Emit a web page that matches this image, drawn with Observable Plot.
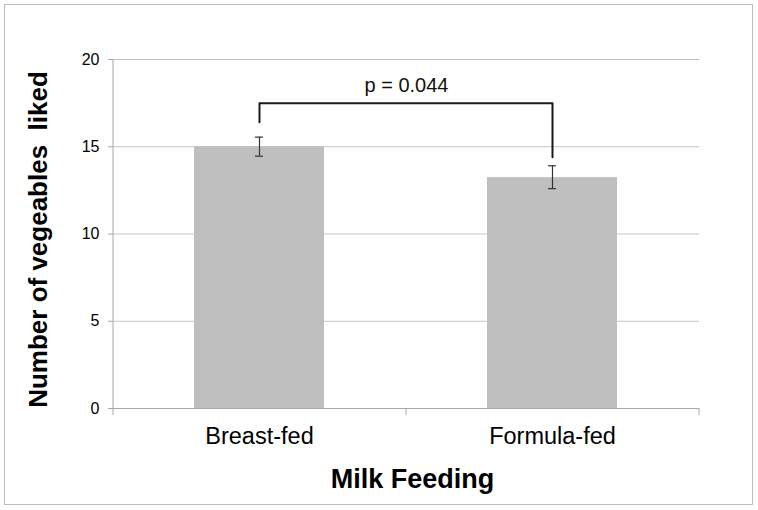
<!DOCTYPE html>
<html>
<head>
<meta charset="utf-8">
<script src="https://cdn.jsdelivr.net/npm/d3@7"></script>
<script src="https://cdn.jsdelivr.net/npm/@observablehq/plot@0.6"></script>
<style>
  html, body { margin: 0; padding: 0; background: #fff; }
  #wrap { position: relative; width: 758px; height: 510px; }
  #border { position: absolute; left: 4px; top: 4px; width: 747px; height: 499px; border: 1px solid #bdbdbd; pointer-events: none; }
  #chart svg { display: block; }
</style>
</head>
<body>
<div id="wrap"><div id="chart"></div><div id="border"></div></div>
<script>
const categories = ["Breast-fed", "Formula-fed"];
const means = [15.0, 13.23];
const errLow = [14.46, 12.6];
const errHigh = [15.55, 13.91];
const yTicks = [0, 5, 10, 15, 20];
const bracketX = ["Breast-fed", "Breast-fed", "Formula-fed", "Formula-fed"];
const bracketY = [16.4, 17.5, 17.5, 14.4];
const pLabel = "p = 0.044";
const pLabelY = 18.5;
const xTitle = "Milk Feeding";
const yTitle = "Number of vegeables  liked";

const bars = categories.map((c, i) => ({cat: c, mean: means[i], lo: errLow[i], hi: errHigh[i]}));
const bracket = bracketX.map((c, i) => ({cat: c, y: bracketY[i]}));

const font = "'Liberation Sans', Arial, Helvetica, sans-serif";
const gridColor = "#c4c4c4";
const axisColor = "#a8a8a8";

const plot = Plot.plot({
  width: 758,
  height: 510,
  marginLeft: 113,
  marginRight: 59,
  marginTop: 59,
  marginBottom: 102,
  style: {fontFamily: font, color: "#000", background: "#fff"},
  x: {domain: categories, paddingInner: 0.556, paddingOuter: 0.278, label: null},
  y: {domain: [0, 20], label: null},
  marks: [
    Plot.ruleY(yTicks.filter(d => d > 0), {stroke: gridColor, strokeWidth: 1}),
    Plot.barY(bars, {x: "cat", y: "mean", fill: "#bfbfbf"}),
    // axis lines
    Plot.ruleY([0], {stroke: axisColor, strokeWidth: 1}),
    Plot.ruleX([categories[0]], {y1: 0, y2: 20, dx: -146.5, stroke: axisColor}),
    // x category boundary ticks
    Plot.axisX(categories, {tickSize: 7, text: null, dx: -146.5, stroke: axisColor}),
    Plot.axisX([categories[1]], {tickSize: 7, text: null, dx: 146.5, stroke: axisColor}),
    Plot.axisX({tickSize: 0, tickPadding: 19, fontSize: 23.5, label: null}),
    Plot.axisY({ticks: yTicks, tickSize: 5, tickPadding: 9, fontSize: 16, stroke: axisColor, label: null}),
    // error bars
    Plot.ruleX(bars, {x: "cat", y1: "lo", y2: "hi", stroke: "#333", strokeWidth: 1.2}),
    Plot.tickY(bars, {x: "cat", y: "lo", insetLeft: 61, insetRight: 61, stroke: "#333", strokeWidth: 1.2}),
    Plot.tickY(bars, {x: "cat", y: "hi", insetLeft: 61, insetRight: 61, stroke: "#333", strokeWidth: 1.2}),
    // significance bracket
    Plot.line(bracket, {x: "cat", y: "y", stroke: "#1a1a1a", strokeWidth: 2, curve: "linear"}),
    Plot.text([pLabel], {y: () => pLabelY, text: d => d, fontSize: 20, fill: "#111", style: {letterSpacing: "1px"}}),
    // titles
    Plot.text([xTitle], {frameAnchor: "bottom", lineAnchor: "middle", dx: 6, dy: 71, text: d => d, fontSize: 27, fontWeight: "bold", fill: "#000"}),
    Plot.text([yTitle], {frameAnchor: "left", textAnchor: "middle", lineAnchor: "middle", dx: -75, dy: 5.5, rotate: -90, text: d => d, fontSize: 26, fontWeight: "bold", fill: "#000"})
  ]
});

d3.select(plot).selectAll("text").filter(function() { return this.textContent === yTitle; }).style("white-space", "pre");
document.getElementById("chart").appendChild(plot);
</script>
</body>
</html>
